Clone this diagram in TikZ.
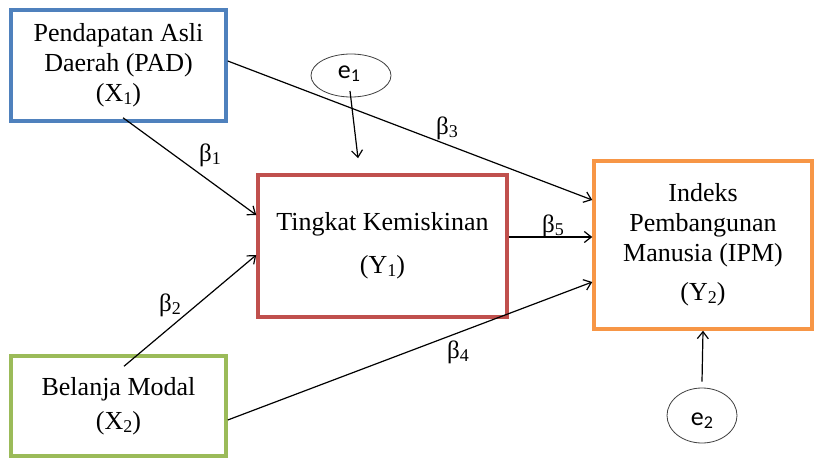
\documentclass[tikz,border=0pt]{standalone}
\usepackage{fontspec}
\setmainfont{Liberation Serif}
\newfontfamily\calib{Carlito}
\usetikzlibrary{arrows.meta,shapes.geometric}
\definecolor{cblue}{HTML}{4F81BD}
\definecolor{cred}{HTML}{C0504D}
\definecolor{cgreen}{HTML}{9BBB59}
\definecolor{corange}{HTML}{F79646}
\newcommand\sbs[1]{\raisebox{-0.12em}{\fontsize{18}{18}\selectfont #1}}
\tikzset{
  varbox/.style={draw, line width=3.5pt, rectangle, align=center, inner sep=0pt,
    font=\fontsize{26}{30}\selectfont},
  errell/.style={draw, ellipse, line width=0.8pt, draw=black!75, inner sep=0pt},
  etext/.style={font=\calib\fontsize{26}{26}\selectfont, inner sep=0pt},
  conn/.style={line width=1.2pt, -{Straight Barb[length=7pt,width=11pt,line width=1.2pt]}},
  blabel/.style={font=\fontsize{25}{25}\selectfont, inner sep=0pt}
}
\begin{document}
\begin{tikzpicture}[x=1pt,y=-1pt]
\useasboundingbox (0,0) rectangle (814,460);
\node[varbox, draw=cblue, minimum width=215pt, minimum height=111pt] (x1) at (118.5,65.5)
  {Pendapatan Asli\\Daerah (PAD)\\(X\sbs{1})};
\node[varbox, draw=cred, minimum width=249pt, minimum height=142pt] (y1) at (382.5,246)
  {Tingkat Kemiskinan\\[13pt](Y\sbs{1})};
\node[varbox, draw=corange, minimum width=218pt, minimum height=168pt] (y2) at (703,245)
  {Indeks\\Pembangunan\\Manusia (IPM)\\[9pt](Y\sbs{2})};
\node[varbox, draw=cgreen, minimum width=215pt, minimum height=100pt] (x2) at (118.5,406)
  {Belanja Modal\\[4pt](X\sbs{2})};
\node[errell, minimum width=80pt, minimum height=43pt] (e1) at (351,75.5) {};
\node[etext] (e1t) at (349,74) {e\sbs{1}};
\node[errell, minimum width=70pt, minimum height=55pt] (e2) at (702,415.5) {};
\node[etext] (e2t) at (702,421) {e\sbs{2}};

\draw[conn] ([xshift=4.5pt,yshift=5pt]x1.south) -- ([yshift=31pt]y1.west);
\draw[conn] ([xshift=5.5pt,yshift=-12pt]x2.north) -- ([yshift=-9pt]y1.west);
\draw[conn] ([yshift=4.5pt]x1.east) -- ([yshift=45pt]y2.west);
\draw[conn] ([yshift=9pt]y1.east) -- ([yshift=9pt]y1.east -| y2.west);
\draw[conn] ([yshift=-14pt]x2.east) -- ([yshift=-37pt]y2.west);
\draw[conn] ([xshift=-1pt,yshift=-15.5pt]e1.center) -- ([xshift=-24.5pt,yshift=15pt]y1.north);
\draw[conn] ([yshift=6pt]e2.north) -- (y2.south);

\node[blabel] (b1) at (210,155) {β\sbs{1}};
\node[blabel] (b2) at (170,305) {β\sbs{2}};
\node[blabel] (b3) at (447,128) {β\sbs{3}};
\node[blabel] (b4) at (458,352) {β\sbs{4}};
\node[blabel] (b5) at (553,226) {β\sbs{5}};
\end{tikzpicture}
\end{document}
